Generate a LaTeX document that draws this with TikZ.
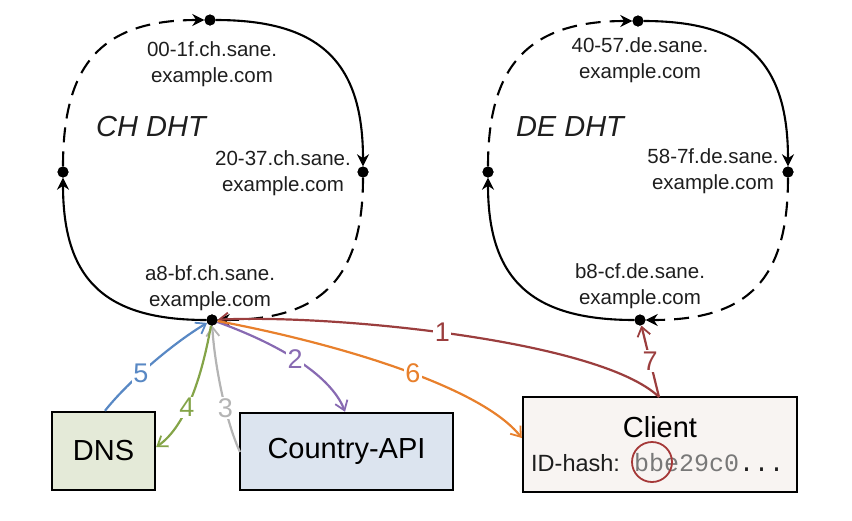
\documentclass[tikz,border=0pt]{standalone}
\usepackage{fontspec}
\setmainfont{Liberation Sans}
\setmonofont{Liberation Mono}
\usetikzlibrary{arrows.meta}
\definecolor{cMaroon}{RGB}{155,62,62}
\definecolor{cPurple}{RGB}{136,106,178}
\definecolor{cGray}{RGB}{180,180,180}
\definecolor{cGreen}{RGB}{132,164,72}
\definecolor{cBlue}{RGB}{88,136,196}
\definecolor{cOrange}{RGB}{232,128,44}
\definecolor{cDNS}{RGB}{228,234,216}
\definecolor{cAPI}{RGB}{220,228,239}
\definecolor{cClient}{RGB}{248,244,242}
\definecolor{cHash}{RGB}{120,120,120}
\definecolor{cText}{RGB}{30,30,30}
\tikzset{
  dot/.style={circle, fill=black, inner sep=0pt, minimum size=11pt},
  ring/.style={line width=2.1pt, black},
  ringdash/.style={ring, dash pattern=on 15pt off 9pt},
  ringtip/.style={-{Stealth[length=12pt,width=12pt]}},
  hostlbl/.style={font=\fontsize{20.5}{25.5}\selectfont, text=cText, align=center, inner sep=0pt},
  dhtlbl/.style={font=\fontsize{29}{32}\selectfont\itshape, text=cText, inner sep=0pt},
  box/.style={draw=black, line width=2.4pt, inner sep=0pt, font=\fontsize{29}{32}\selectfont},
  conn/.style={line width=2.2pt},
  conntip/.style={-{Straight Barb[length=9pt,width=13pt,line width=1.8pt]}},
  numlbl/.style={fill=white, inner sep=1.5pt, font=\fontsize{27}{30}\selectfont}
}
\begin{document}
\begin{tikzpicture}[x=1pt,y=-1pt]
\useasboundingbox (0,0) rectangle (852,520);

% ---------- CH ring ----------
\node[dot] (chT) at (210,20) {};
\node[dot] (chR) at (363,172) {};
\node[dot] (chB) at (212,320) {};
\node[dot] (chL) at (63,172) {};
\draw[ringdash, ringtip] (chL) .. controls (63,66) and (100,20) .. (chT);
\draw[ring, ringtip] (chT) .. controls (320,20) and (363,62) .. (chR);
\draw[ringdash, ringtip] (chR) .. controls (363,280) and (320,320) .. (chB);
\draw[ring, ringtip] (chB) .. controls (105,320) and (63,280) .. (chL);
\node[dot] at (chT) {};
\node[dot] at (chR) {};
\node[dot] at (chB) {};
\node[dot] at (chL) {};

\node[hostlbl] (chTl) at (212,64) {00-1f.ch.sane.\\example.com};
\node[hostlbl] (chRl) at (283,173) {20-37.ch.sane.\\example.com};
\node[hostlbl] (chBl) at (210,288) {a8-bf.ch.sane.\\example.com};
\node[dhtlbl] (chName) at (151,127) {CH DHT};

% ---------- DE ring ----------
\node[dot] (deT) at (638,21) {};
\node[dot] (deR) at (788,172) {};
\node[dot] (deB) at (640,320) {};
\node[dot] (deL) at (488,172) {};
\draw[ringdash, ringtip] (deL) .. controls (488,66) and (528,21) .. (deT);
\draw[ring, ringtip] (deT) .. controls (746,21) and (788,62) .. (deR);
\draw[ringdash, ringtip] (deR) .. controls (788,280) and (748,320) .. (deB);
\draw[ring, ringtip] (deB) .. controls (532,320) and (488,280) .. (deL);
\node[dot] at (deT) {};
\node[dot] at (deR) {};
\node[dot] at (deB) {};
\node[dot] at (deL) {};

\node[hostlbl] (deTl) at (640,60) {40-57.de.sane.\\example.com};
\node[hostlbl] (deRl) at (713,171) {58-7f.de.sane.\\example.com};
\node[hostlbl] (deBl) at (640,286) {b8-cf.de.sane.\\example.com};
\node[dhtlbl] (deName) at (570,127) {DE DHT};

% ---------- boxes ----------
\node[box, fill=cDNS, minimum width=103pt, minimum height=78pt] (dns) at (103.5,451) {DNS};
\node[box, fill=cAPI, minimum width=213pt, minimum height=77pt] (api) at (346.5,451.5) {Country-API};
\node[box, fill=cClient, minimum width=274pt, minimum height=95pt] (client) at (660,444.5) {};
\node[font=\fontsize{29}{32}\selectfont, inner sep=0pt] (clientT) at (660,427) {Client};
\node[anchor=base west, inner sep=0pt, font=\fontsize{23.5}{26}\selectfont, text=cText] (idhash) at (531,471) {ID-hash:};
\node[anchor=base west, inner sep=0pt, font=\fontsize{25}{26}\selectfont\ttfamily, text=cHash] (hashval) at (634,471) {bbe29c0\textcolor{cText}{...}};
\node[circle, draw=cMaroon!90!red, line width=1.8pt, minimum size=40pt, inner sep=0pt] (hashmark) at (652,462) {};

% ---------- connectors ----------
\coordinate (clTop) at (659,397);
\draw[conn, cMaroon, conntip] (clTop) .. controls (600,340) and (330,314) .. (chB)
  node[numlbl, text=cMaroon, pos=0.53] (n1) {1};
\draw[conn, cMaroon, conntip] (clTop) -- (deB)
  node[numlbl, text=cMaroon, pos=0.5] (n7) {7};
\draw[conn, cPurple, conntip] (chB) .. controls (300,352) and (335,385) .. (api.north -| 345,0)
  node[numlbl, text=cPurple, pos=0.4] (n2) {2};
\draw[conn, cGray, conntip] (240,452) .. controls (225,420) and (214,360) .. (chB)
  node[numlbl, text=cGray, pos=0.37] (n3) {3};
\draw[conn, cGreen, conntip] (chB) .. controls (203,370) and (188,425) .. (dns.east |- 0,447)
  node[numlbl, text=cGreen, pos=0.6] (n4) {4};
\draw[conn, cBlue, conntip] (dns.north -| 105,0) .. controls (125,385) and (170,345) .. (chB)
  node[numlbl, text=cBlue, pos=0.42] (n5) {5};
\draw[conn, cOrange, conntip] (chB) .. controls (330,342) and (480,385) .. (client.west |- 0,438)
  node[numlbl, text=cOrange, pos=0.55] (n6) {6};
\node[dot] at (chB) {};
\end{tikzpicture}
\end{document}
